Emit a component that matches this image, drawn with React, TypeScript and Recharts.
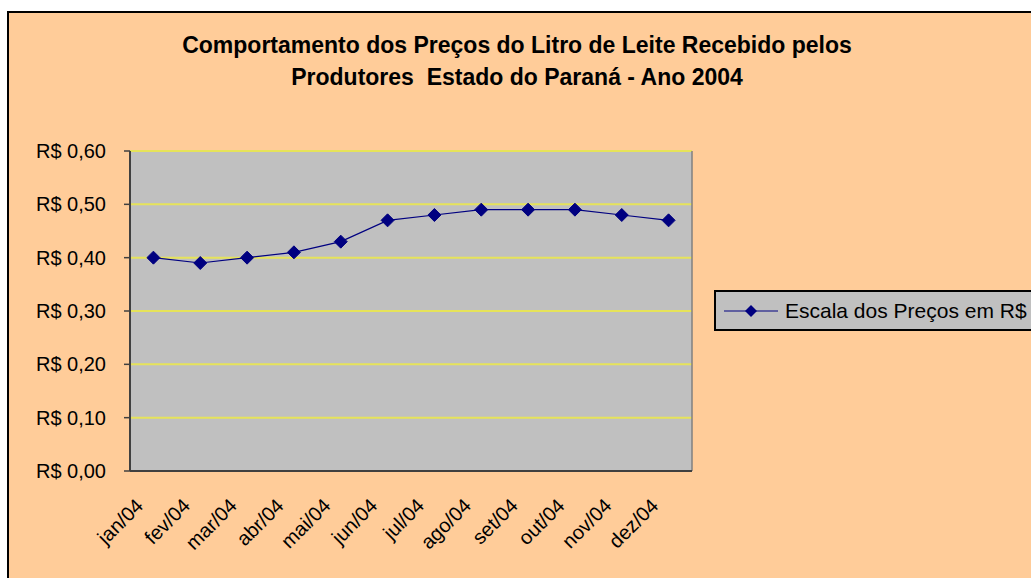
import React from 'react';
import { LineChart, Line, XAxis, YAxis, CartesianGrid, Legend, ReferenceLine } from 'recharts';

const months = ['jan/04', 'fev/04', 'mar/04', 'abr/04', 'mai/04', 'jun/04', 'jul/04', 'ago/04', 'set/04', 'out/04', 'nov/04', 'dez/04'];
const prices = [0.40, 0.39, 0.40, 0.41, 0.43, 0.47, 0.48, 0.49, 0.49, 0.49, 0.48, 0.47];
const yTicks = [0, 0.1, 0.2, 0.3, 0.4, 0.5, 0.6];
const boundaryTicks = [0, 1, 2, 3, 4, 5, 6, 7, 8, 9, 10, 11, 12];
const seriesName = 'Escala dos Preços em R$';
const titleLines = ['Comportamento dos Preços do Litro de Leite Recebido pelos', 'Produtores  Estado do Paraná - Ano 2004'];

const data = months.map((m, i) => ({ month: m, pos: i + 0.5, price: prices[i] }));

const FONT = 'Arial, "Liberation Sans", sans-serif';
const NAVY = '#000080';

const fmt = (v: number) => 'R$ ' + v.toFixed(2).replace('.', ',');

const Diamond = (props: any) => {
  const { cx, cy } = props;
  if (cx == null || cy == null) return null;
  const r = 6.5;
  return <path d={`M${cx},${cy - r}L${cx + r},${cy}L${cx},${cy + r}L${cx - r},${cy}Z`} fill={NAVY} stroke={NAVY} />;
};

const MonthTick = (props: any) => {
  const { x, y, payload } = props;
  const ax = x - 9;
  const ay = y + 27;
  return (
    <text x={ax} y={ay} transform={`rotate(-45, ${ax}, ${ay})`} textAnchor="end" fontSize={20} fontFamily={FONT} fill="#000">
      {payload.value}
    </text>
  );
};

const LegendBox = () => (
  <div style={{ width: 330, height: 37, background: '#C0C0C0', border: '2px solid #000', display: 'flex', alignItems: 'center', fontFamily: FONT, fontSize: 21, color: '#000', whiteSpace: 'nowrap' }}>
    <svg width={56} height={20} style={{ marginLeft: 8, marginRight: 5 }}>
      <line x1={0} y1={10} x2={54} y2={10} stroke={NAVY} strokeWidth={1} />
      <path d="M27,4L33,10L27,16L21,10Z" fill={NAVY} />
    </svg>
    <span>{seriesName}</span>
  </div>
);

export default function App() {
  return (
    <div style={{ position: 'absolute', left: 0, top: 0, width: 1031, height: 578, overflow: 'hidden', background: '#fff' }}>
      <div style={{ position: 'absolute', left: 7, top: 11, width: 1100, height: 700, background: '#FFCC99', border: '2px solid #000', borderRightWidth: 0, borderBottomWidth: 0 }} />
      <div style={{ position: 'absolute', left: 0, top: 0 }}>
        <LineChart width={1031} height={578} data={data} margin={{ top: 151, right: 339, bottom: 47, left: 10 }}>
          <text x={517} y={53} textAnchor="middle" fontFamily={FONT} fontSize={23} fontWeight="bold" fill="#000" style={{ whiteSpace: 'pre' }}>{titleLines[0]}</text>
          <text x={517} y={85} textAnchor="middle" fontFamily={FONT} fontSize={23} fontWeight="bold" fill="#000" style={{ whiteSpace: 'pre' }}>{titleLines[1]}</text>
          <CartesianGrid xAxisId="m" vertical={false} stroke="#E6E35A" strokeWidth={2} fill="#C0C0C0" fillOpacity={1} />
          <XAxis xAxisId="b" dataKey="pos" type="number" domain={[0, 12]} ticks={boundaryTicks} height={1} interval={0} tick={false} tickLine={{ stroke: '#404040', strokeWidth: 1.5 }} axisLine={{ stroke: '#404040', strokeWidth: 2 }} tickSize={6} />
          <XAxis xAxisId="m" dataKey="month" scale="band" height={59} axisLine={false} tickLine={false} tick={<MonthTick />} interval={0} />
          <YAxis domain={[0, 0.6]} ticks={yTicks} width={120} tickFormatter={fmt} tick={{ fontSize: 20, fontFamily: FONT, fill: '#000' }} tickLine={{ stroke: '#404040', strokeWidth: 1.5 }} axisLine={{ stroke: '#404040', strokeWidth: 2 }} tickMargin={18} />
          <ReferenceLine xAxisId="b" x={12} stroke="#808080" strokeWidth={1.5} />
          <Line xAxisId="b" dataKey="price" stroke="none" dot={false} activeDot={false} legendType="none" isAnimationActive={false} />
          <Line xAxisId="m" dataKey="price" name={seriesName} stroke={NAVY} strokeWidth={1.2} dot={<Diamond />} isAnimationActive={false} />
          <Legend layout="vertical" align="center" verticalAlign="middle" content={<LegendBox />} wrapperStyle={{ left: 714, top: 290, width: 340 }} />
        </LineChart>
      </div>
    </div>
  );
}
